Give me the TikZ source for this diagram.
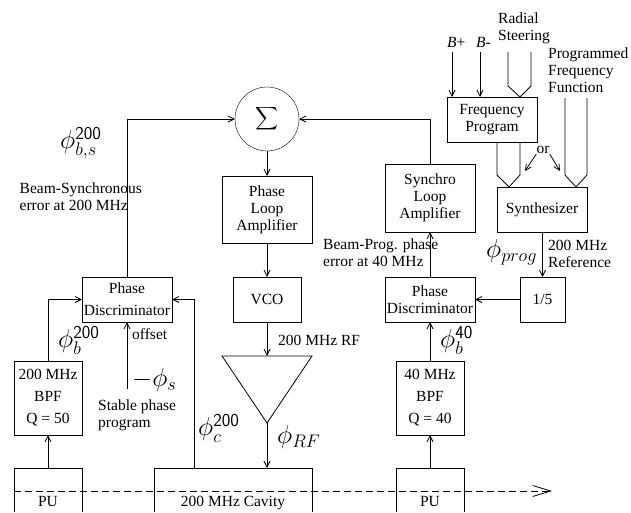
\documentclass[tikz,border=0pt]{standalone}
\usepackage{fix-cm}
\usepackage{fontspec}
\setmainfont{Liberation Serif}
\usetikzlibrary{arrows.meta, positioning, calc}

\begin{document}
\begin{tikzpicture}[
    x=1pt, y=-1pt,
    every node/.style={font=\fontsize{15.5}{17}\selectfont},
    block/.style={rectangle, draw, align=center, inner sep=0pt, outer sep=0pt, line width=0.8pt, minimum width=90pt, minimum height=45pt},
    pickup/.style={inner sep=0pt, outer sep=0pt, minimum width=68pt, text height=38pt, text depth=6pt},
    caption/.style={align=left, inner sep=0pt, anchor=west},
    phase/.style={inner sep=0pt, font=\fontsize{26}{28}\selectfont},
    line/.style={draw, line width=0.8pt, -{Straight Barb[length=6pt,width=6pt]}},
    wire/.style={draw, line width=0.8pt}
]
\useasboundingbox (0,0) rectangle (631,512);

% main loop
\node [circle, draw, minimum size=64pt, inner sep=0pt, outer sep=0pt] (sigma) at (267,119) {\scalebox{1.6}{$\displaystyle\sum$}};
\node [block, below=25pt of sigma, minimum height=67pt] (loopamp) {Phase\\Loop\\Amplifier};
\node [block, below=34pt of loopamp, minimum width=68pt] (vco) {VCO};
\node [block] (discl) at (127,299.5) {Phase\\[5pt]Discriminator};
\node [block, minimum width=68pt, minimum height=74pt] (bpfl) at (48,398) {200 MHz\\[5pt]BPF\\[5pt]Q = 50};
\node [pickup] (pul) at (48,490) {PU};
\node [pickup, minimum width=158pt] (cavity) at (233,490) {200 MHz Cavity};

% right branch
\node [block] (discr) at (430,299.5) {Phase\\Discriminator};
\node [block, above=45pt of discr, minimum height=68pt] (synchro) {Synchro\\Loop\\Amplifier};
\node [block, minimum width=68pt, minimum height=74pt] (bpfr) at (430,398) {40 MHz\\[5pt]BPF\\[5pt]Q = 40};
\node [pickup] (pur) at (430,490) {PU};
\node [block, minimum width=45pt] (divider) at (542.5,299.5) {1/5};
\node [block] (synth) at (542,209.5) {Synthesizer};
\node [block] (freqprog) at (492,119.5) {Frequency\\Program};

% amplifier
\coordinate (ampleft) at (222,356);
\coordinate (ampright) at (312,356);
\coordinate (amptop) at (267,356);
\coordinate (amptip) at (267,423);
\path [wire] (ampleft) -- (ampright) -- (amptip) -- cycle;

% open boxes
\path [wire] (pul.south west) -- (pul.north west) -- (pul.north east) -- (pul.south east);
\path [wire] (cavity.south west) -- (cavity.north west) -- (cavity.north east) -- (cavity.south east);
\path [wire] (pur.south west) -- (pur.north west) -- (pur.north east) -- (pur.south east);

\path [line] (sigma) -- (loopamp);
\path [line] (loopamp) -- (vco);
\path [line] (vco) -- (amptop);
\path [line] (amptip) -- (amptip |- cavity.north);
\path [line] (discl.north) |- (sigma.west);
\path [line] (synchro.north) |- (sigma.east);
\path [line] (bpfl.north) |- (discl.west);
\path [line] ($(cavity.north west)+(40,0)$) |- (discl.east);
\path [line] (pul) -- (bpfl);
\path [line] (pur) -- (bpfr);
\path [line] (bpfr) -- (discr);
\path [line] (discr) -- (synchro);
\path [line] (divider) -- (discr);
\path [line] (synth.south -| divider.north) -- (divider.north);

% inputs at the top
\coordinate (bplus) at (452,52);
\coordinate (bminus) at (480,52);
\path [line] (bplus) -- (bplus |- freqprog.north);
\path [line] (bminus) -- (bminus |- freqprog.north);
\path [wire] (508,52) -- (508,86) -- (520,97) -- (531,86) -- (531,52);
\path [wire] (565,98) -- (565,175) -- (576,187) -- (587,175) -- (587,98);
\path [wire] (497,142) -- (497,175) -- (509,187) -- (520,175) -- (520,142);

\node [inner sep=0pt] (orlabel) at (543,150) {or};
\coordinate (orleft) at (525,171);
\coordinate (orright) at (560,171);
\path [line] (orlabel.south west) -- (orleft);
\path [line] (orlabel.south east) -- (orright);

% beam
\coordinate (beamin) at (14,491);
\coordinate (beamout) at (552,491);
\draw [line width=0.8pt, dash pattern=on 7pt off 4pt, -{Straight Barb[length=18pt,width=11pt]}] (beamin) -- (beamout);

% offset input
\coordinate (stableprog) at (127,389);
\path [line] (stableprog) -- (discl.south);

% labels
\node [caption] (radial) at (498,28) {Radial\\Steering};
\node [caption] (bplustxt) at (447,42) {\textit{B}+};
\node [caption] (bminustxt) at (476,42) {\textit{B}-};
\node [caption] (progfreq) at (548,70) {Programmed\\Frequency\\Function};
\node [caption] (refer) at (548,253.5) {200 MHz\\Reference};
\node [caption] (beamprog) at (323,252.5) {Beam-Prog. phase\\error at 40 MHz};
\node [caption] (beamsync) at (19.5,196.5) {Beam-Synchronous\\error at 200 MHz};
\node [caption] (offset) at (132,334) {offset};
\node [caption] (stable) at (98,415.5) {Stable phase\\program};
\node [caption] (rftxt) at (278,340) {200 MHz RF};

\node [phase, anchor=west] (phibs) at (60,143) {$\phi_{b,s}^{\mathsf{200}}$};
\node [phase, anchor=west] (phib) at (58,340) {$\phi_{b}^{\mathsf{200}}$};
\node [phase, anchor=west] (phic) at (198,428) {$\phi_{c}^{\mathsf{200}}$};
\node [phase, anchor=west] (phirf) at (277,437) {$\phi_{RF}$};
\node [phase, anchor=west] (phibr) at (440,340) {$\phi_{b}^{\mathsf{40}}$};
\node [phase, anchor=west] (phiprog) at (486,252) {$\phi_{prog}$};
\node [phase, anchor=west] (phis) at (132,380) {$-\phi_{s}$};
\end{tikzpicture}
\end{document}
